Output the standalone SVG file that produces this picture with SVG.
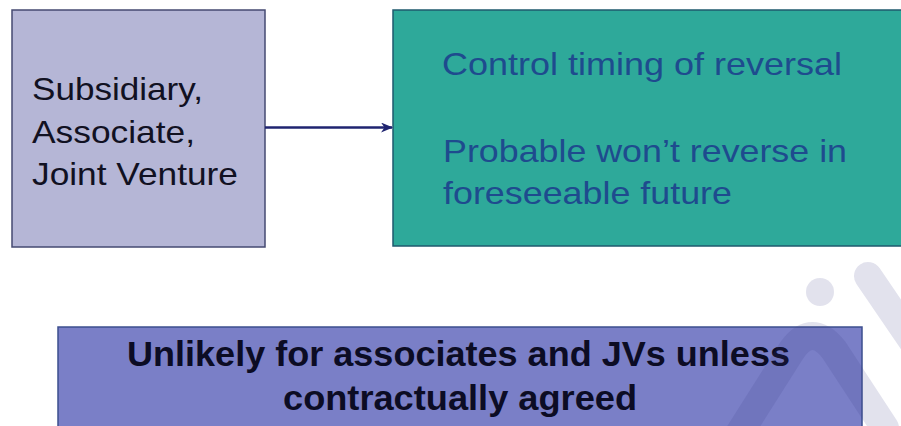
<svg xmlns="http://www.w3.org/2000/svg" width="901" height="426" viewBox="0 0 901 426">
  <style>
    .lbl { font-family: "Liberation Sans", Arial, sans-serif; font-size: 32px; }
    .left-txt { fill: #111122; }
    .right-txt { fill: #1e4b8e; }
    .bottom-txt { font-weight: bold; font-size: 35px; fill: #0c0c24; }
    .mark { fill: none; stroke: #3a3f88; stroke-opacity: 0.15; stroke-width: 28; stroke-linecap: round; stroke-linejoin: round; }
  </style>
  <defs>
    <marker id="arrowhead" viewBox="0 0 12 10" refX="11" refY="5" markerWidth="12" markerHeight="10" markerUnits="userSpaceOnUse" orient="auto">
      <path d="M0,0 L12,5 L0,10 L3.5,5 Z" fill="#1f2470"/>
    </marker>
  </defs>

  <rect width="901" height="426" fill="#ffffff"/>

  <g id="node-entities">
    <rect x="12" y="10" width="253" height="237" fill="#b5b6d6" stroke="#454a72" stroke-width="1.5"/>
    <text class="lbl left-txt" x="32" y="100" textLength="171" lengthAdjust="spacingAndGlyphs">Subsidiary,</text>
    <text class="lbl left-txt" x="32" y="142.5" textLength="163" lengthAdjust="spacingAndGlyphs">Associate,</text>
    <text class="lbl left-txt" x="32" y="185" textLength="206" lengthAdjust="spacingAndGlyphs">Joint Venture</text>
  </g>

  <g id="node-conditions">
    <rect x="393" y="10" width="520" height="236" fill="#2ea99a" stroke="#1f5a6e" stroke-width="1.5"/>
    <text class="lbl right-txt" x="442" y="74.5" textLength="400" lengthAdjust="spacingAndGlyphs">Control timing of reversal</text>
    <text class="lbl right-txt" x="443" y="161.5" textLength="404" lengthAdjust="spacingAndGlyphs">Probable won’t reverse in</text>
    <text class="lbl right-txt" x="443" y="203.5" textLength="289" lengthAdjust="spacingAndGlyphs">foreseeable future</text>
  </g>

  <g id="node-note">
    <rect x="58" y="327" width="804" height="110" fill="#7a7fc7" stroke="#3d4f8f" stroke-width="1.5"/>
    <text class="lbl bottom-txt" x="127" y="365.5" textLength="663" lengthAdjust="spacingAndGlyphs">Unlikely for associates and JVs unless</text>
    <text class="lbl bottom-txt" x="283" y="410" textLength="354" lengthAdjust="spacingAndGlyphs">contractually agreed</text>
  </g>

  <g id="connectors">
    <line x1="265" y1="127.5" x2="392" y2="127.5" stroke="#1f2470" stroke-width="2.5" marker-end="url(#arrowhead)"/>
  </g>

  <!-- faint logo mark in the lower right corner -->
  <g id="logo-mark">
    <circle cx="820" cy="292" r="14" fill="#3a3f88" fill-opacity="0.15"/>
    <path class="mark" d="M735,440 L792,350 Q812,322 834,350 L885,428"/>
    <path class="mark" d="M868,276 L915,345"/>
  </g>
</svg>
